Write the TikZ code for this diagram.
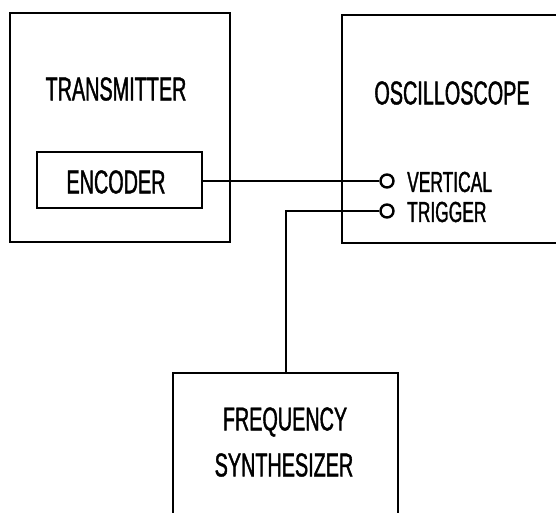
\documentclass[tikz,border=0pt]{standalone}
\usepackage{fontspec}
\setmainfont[FakeStretch=0.6,FakeBold=1.2]{Liberation Sans}
\begin{document}
\begin{tikzpicture}[x=1pt,y=-1pt,
  box/.style={draw=black,line width=2.8pt},
  wire/.style={draw=black,line width=2.6pt},
  port/.style={circle,draw=black,line width=2.4pt,fill=white,minimum size=13pt,inner sep=0pt},
  big/.style={font=\fontsize{33}{36}\selectfont,inner sep=0pt},
  small/.style={font=\fontsize{29}{31}\selectfont,inner sep=0pt,anchor=west}]
\useasboundingbox (0,0) rectangle (556,512);
\fill[white] (0,0) rectangle (556,512);
\begin{scope}
\clip (0,0) rectangle (556,512);
% boxes
\draw[box] (10,13) rectangle (230,242);
\node[inner sep=0pt,minimum width=165pt,minimum height=56pt,draw=black,line width=2.8pt] (enc) at (119.5,180) {};
\draw[box] (342,15) rectangle (580,243);
\draw[box] (173,373) rectangle (398,540);
\coordinate (fstop) at (286,373);
% texts
\node[big] (ttx) at (116,89) {TRANSMITTER};
\node[big] (tenc) at (116,182) {ENCODER};
\node[big] (tosc) at (452,93) {OSCILLOSCOPE};
\node[big] (tfr) at (285,422) {FREQUENCY};
\node[big] (tsy) at (284,465) {SYNTHESIZER};
% ports
\node[port] (pv) at (387,181) {};
\node[port] (pt) at (387,211) {};
\node[small] (lv) at (407,182) {VERTICAL};
\node[small] (lt) at (407,212) {TRIGGER};
% wires
\draw[wire] (enc.east|-pv) -- (pv.west);
\coordinate (bend) at (286,211);
\draw[wire] (pt.west) -- (bend) -- (fstop);
\end{scope}
\end{tikzpicture}
\end{document}
